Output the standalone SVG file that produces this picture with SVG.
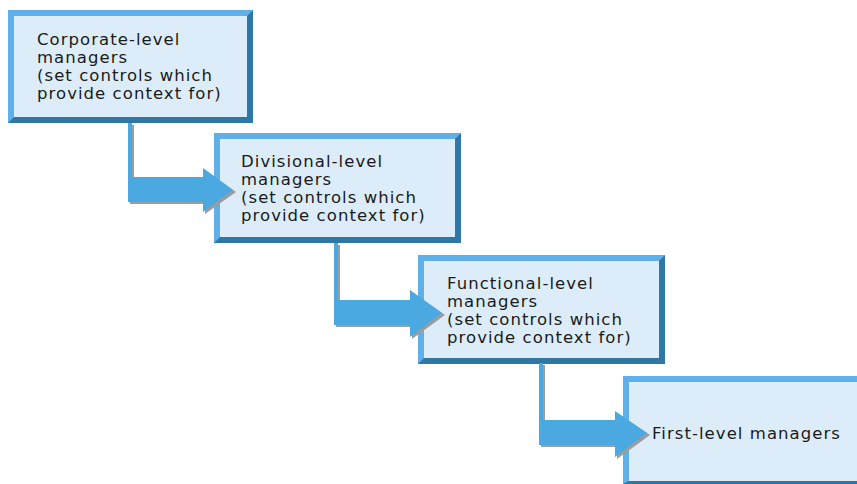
<svg xmlns="http://www.w3.org/2000/svg" width="857" height="484" viewBox="0 0 857 484">
<defs>
<style>
.fill{fill:#dcedf9}
.lt{fill:#5fb0ea}
.dk{fill:#2f78a6}
.arrow{fill:#4ba9e2}
.shadow{fill:#9c9c9c}
text{font-family:"DejaVu Sans","Liberation Sans",sans-serif;font-size:16.5px;letter-spacing:1.05px;fill:#1a1a1a}
</style>
</defs>
<rect width="857" height="484" fill="#ffffff"/>
<g id="n1">
<polygon class="dk" points="8,10 253,10 253,123 8,123"/>
<polygon class="lt" points="8,10 253,10 247,16 14,16 14,117 8,123"/>
<rect class="fill" x="14" y="16" width="233" height="101"/>
<text x="37" y="45">Corporate-level</text>
<text x="37" y="63">managers</text>
<text x="37" y="81">(set controls which</text>
<text x="37" y="99">provide context for)</text>
</g>
<g id="n2">
<polygon class="dk" points="214,133 461,133 461,243 214,243"/>
<polygon class="lt" points="214,133 461,133 455,139 220,139 220,237 214,243"/>
<rect class="fill" x="220" y="139" width="235" height="98"/>
<text x="241" y="167">Divisional-level</text>
<text x="241" y="185">managers</text>
<text x="241" y="203">(set controls which</text>
<text x="241" y="221">provide context for)</text>
</g>
<g id="n3">
<polygon class="dk" points="418,255 665,255 665,364 418,364"/>
<polygon class="lt" points="418,255 665,255 659,261 424,261 424,358 418,364"/>
<rect class="fill" x="424" y="261" width="235" height="97"/>
<text x="447" y="289">Functional-level</text>
<text x="447" y="307">managers</text>
<text x="447" y="325">(set controls which</text>
<text x="447" y="343">provide context for)</text>
</g>
<g id="n4">
<polygon class="dk" points="623,376 857,376 857,484 623,484"/>
<polygon class="lt" points="623,376 857,376 857,382 629,382 629,481 623,484"/>
<rect class="fill" x="629" y="382" width="228" height="99"/>
<text x="652" y="439">First-level managers</text>
</g>
<g id="connectors">
<g id="c1">
<polygon class="shadow" points="130,125 134,125 134,179 205,179 205,170 236,192 205,214 205,204 130,204"/>
<polygon class="arrow" points="128,123 132,123 132,177 203,177 203,168 233,190 203,212 203,202 128,202"/>
</g>
<g id="c2">
<polygon class="shadow" points="336,245 340,245 340,302 412,302 412,292 445,315 412,339 412,327 336,327"/>
<polygon class="arrow" points="334,243 338,243 338,300 410,300 410,290 442,313 410,337 410,325 334,325"/>
</g>
<g id="c3">
<polygon class="shadow" points="541,365 545,365 545,422 617,422 617,413 650,435 617,459 617,447 541,447"/>
<polygon class="arrow" points="539,363 543,363 543,420 615,420 615,411 647,433 615,457 615,445 539,445"/>
</g>
</g>
</svg>
